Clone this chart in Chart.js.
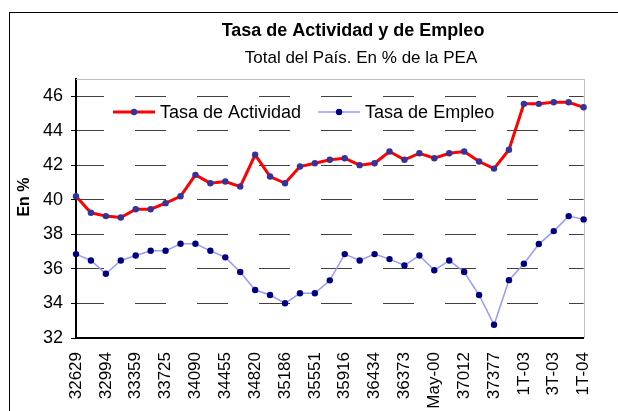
<!DOCTYPE html>
<html><head><meta charset="utf-8">
<script src="https://cdn.jsdelivr.net/npm/chart.js@4.4.0/dist/chart.umd.min.js"></script>
<style>
html,body{margin:0;padding:0;background:#fff;}
#wrap{position:relative;width:618px;height:411px;overflow:hidden;background:#fff;}
#frame{position:absolute;left:9px;top:12px;width:700px;height:500px;border-left:1px solid #000;border-top:1px solid #000;}
canvas{position:absolute;left:0;top:0;}
</style></head><body>
<div id="wrap"><div id="frame"></div><canvas id="c" width="618" height="411"></canvas></div>
<script>
const tickLabels = ['32629','32994','33359','33725','34090','34455','34820','35186','35551','35916','36434','36373','May-00','37012','37377','1T-03','3T-03','1T-04'];
const tasaActividad = [40.21,39.25,39.06,38.98,39.46,39.46,39.81,40.21,41.45,40.96,41.06,40.77,42.61,41.35,40.96,41.93,42.12,42.32,42.41,42.01,42.12,42.80,42.32,42.70,42.41,42.70,42.80,42.22,41.81,42.90,45.56,45.56,45.65,45.65,45.36];
const tasaEmpleo = [36.86,36.49,35.72,36.49,36.78,37.05,37.05,37.46,37.46,37.05,36.67,35.82,34.78,34.49,34.01,34.59,34.59,35.34,36.86,36.49,36.86,36.57,36.20,36.78,35.92,36.49,35.82,34.49,32.77,35.35,36.30,37.44,38.19,39.06,38.87];
const seriesNames = ['Tasa de Actividad','Tasa de Empleo'];
const chartTitle = 'Tasa de Actividad y de Empleo';
const chartSubtitle = 'Total del País. En % de la PEA';
const yTitle = 'En %';
const yMin = 32, yMax = 47, yStep = 2;

const categories = [];
for (let i = 0; i < tasaActividad.length; i++) categories.push(i % 2 === 0 ? tickLabels[i / 2] : '');

const FONT = '"Liberation Sans", Arial, sans-serif';

const decor = {
  id: 'decor',
  beforeDatasetsDraw(chart) {
    const {ctx, chartArea: a} = chart;
    ctx.save();
    ctx.strokeStyle = '#c0c0c0'; ctx.lineWidth = 1;
    ctx.beginPath();
    ctx.moveTo(a.left, Math.round(a.top) + 0.5);
    ctx.lineTo(Math.round(a.right) + 0.5, Math.round(a.top) + 0.5);
    ctx.lineTo(Math.round(a.right) + 0.5, a.bottom);
    ctx.stroke();
    ctx.restore();
  },
  afterDraw(chart) {
    const {ctx} = chart;
    ctx.save();
    ctx.fillStyle = '#000';
    ctx.textAlign = 'center'; ctx.textBaseline = 'middle';
    ctx.font = 'bold 18px ' + FONT;
    ctx.fillText(chartTitle, 353, 31);
    ctx.font = '17px ' + FONT;
    ctx.fillText(chartSubtitle, 361, 58);
    ctx.save();
    ctx.translate(25, 197); ctx.rotate(-Math.PI / 2);
    ctx.font = 'bold 16px ' + FONT;
    ctx.fillText(yTitle, 0, 0);
    ctx.restore();
    // legend
    let x = 113; const y = 112;
    ctx.font = '18px ' + FONT; ctx.textAlign = 'left';
    chart.data.datasets.forEach(ds => {
      ctx.strokeStyle = ds.borderColor; ctx.lineWidth = ds.borderWidth;
      ctx.beginPath(); ctx.moveTo(x, y); ctx.lineTo(x + 42, y); ctx.stroke();
      ctx.fillStyle = ds.pointBackgroundColor;
      ctx.beginPath(); ctx.arc(x + 21, y, ds.pointRadius, 0, Math.PI * 2); ctx.fill();
      ctx.fillStyle = '#000';
      ctx.fillText(ds.label, x + 47, y + 1);
      x += 47 + ctx.measureText(ds.label).width + 17;
    });
    ctx.restore();
  }
};

new Chart(document.getElementById('c'), {
  type: 'line',
  data: {
    labels: categories,
    datasets: [
      {label: seriesNames[0], data: tasaActividad, borderColor: '#ff0000', borderWidth: 3,
       pointRadius: 3.2, pointBackgroundColor: '#333399', pointBorderColor: '#333399', pointBorderWidth: 0, tension: 0},
      {label: seriesNames[1], data: tasaEmpleo, borderColor: '#9999ff', borderWidth: 1.5,
       pointRadius: 3.2, pointBackgroundColor: '#000080', pointBorderColor: '#000080', pointBorderWidth: 0, tension: 0}
    ]
  },
  options: {
    responsive: false, animation: false, devicePixelRatio: 1,
    layout: {padding: {top: 79, right: 19, bottom: 0, left: 0}},
    plugins: {legend: {display: false}, title: {display: false}, tooltip: {enabled: false}},
    scales: {
      x: {
        type: 'category', offset: false,
        grid: {display: false, drawTicks: false},
        border: {display: true, color: '#000', width: 2},
        ticks: {autoSkip: false, minRotation: 90, maxRotation: 90, padding: 14, color: '#000',
                font: {family: FONT, size: 17}},
        afterFit(s) { s.height = 73; }
      },
      y: {
        min: yMin, max: yMax,
        ticks: {stepSize: yStep, includeBounds: false, padding: 8, color: '#000', font: {family: FONT, size: 18}},
        grid: {color: '#404040', lineWidth: 1, drawTicks: true, tickLength: 5, tickColor: '#000'},
        border: {display: true, color: '#000', width: 2, dash: [31, 31], dashOffset: 4},
        afterFit(s) { s.width = 76; }
      }
    }
  },
  plugins: [decor]
});
</script>
</body></html>
